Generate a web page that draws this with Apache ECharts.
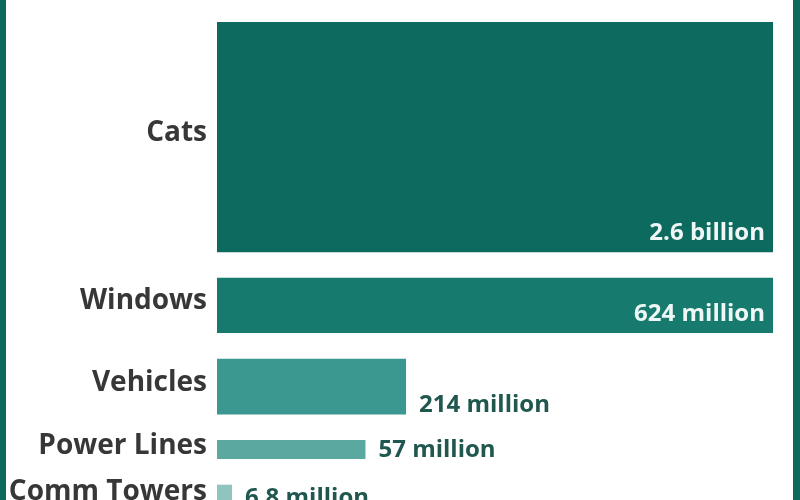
<!DOCTYPE html>
<html>
<head>
<meta charset="utf-8">
<script src="https://cdn.jsdelivr.net/npm/echarts@6/dist/echarts.min.js"></script>
<style>
  html, body { margin: 0; padding: 0; background: #fff; }
  #chart { width: 800px; height: 500px; }
</style>
</head>
<body>
<div id="chart"></div>
<script>
// causes of bird deaths (millions per year)
var categories = ['Cats', 'Windows', 'Vehicles', 'Power Lines', 'Comm Towers'];
var deaths = [2600, 624, 214, 57, 6.8];
var valueLabels = ['2.6 billion', '624 million', '214 million', '57 million', '6.8 million'];
// bar length as share of the full width
var barShare = [1, 1, 0.34, 0.267, 0.027];
var barColors = ['#0d6a5e', '#177a6e', '#3a9890', '#5ba8a0', '#90c5bf'];

// bar area ~ deaths, so thickness = deaths / length; stack down with a gap
var GAP = 290;
var rows = [];
var pos = 0;
for (var i = 0; i < categories.length; i++) {
	var thick = deaths[i] / barShare[i];
	rows.push([pos, pos + thick, barShare[i], i]);
	pos += thick + GAP;
}

function renderBar(params, api) {
	var idx = api.value(3);
	var p0 = api.coord([0, api.value(0)]);
	var p1 = api.coord([api.value(2), api.value(1)]);
	var inside = api.value(2) >= 1;
	var cy = (p0[1] + p1[1]) / 2;
	return {
		type: 'group',
		children: [{
			type: 'rect',
			shape: { x: p0[0], y: p0[1], width: p1[0] - p0[0], height: p1[1] - p0[1] },
			style: { fill: barColors[idx] }
		}, {
			type: 'text',
			style: {
				x: p0[0] - 10, y: cy - 4,
				text: categories[idx],
				align: 'right', verticalAlign: 'middle',
				fill: '#373737',
				font: 'bold 28px "Open Sans"'
			}
		}, {
			type: 'text',
			style: {
				x: inside ? p1[0] - 8 : p1[0] + 13,
				y: inside ? p1[1] - 19 : p1[1] - 9,
				text: valueLabels[idx],
				align: inside ? 'right' : 'left', verticalAlign: 'middle',
				fill: inside ? '#eef7f5' : '#20574f',
				font: 'bold 24px "Open Sans"'
			}
		}]
	};
}

var myChart = echarts.init(document.getElementById('chart'));
var option = {
	backgroundColor: '#fff',
	animation: false,
	grid: { left: 217, right: 27, top: 22, bottom: 0 },
	xAxis: { type: 'value', min: 0, max: 1, show: false },
	yAxis: { type: 'value', min: 0, max: 5400, inverse: true, show: false },
	graphic: [
		{ type: 'rect', left: 0, top: 0, shape: { width: 6, height: 500 }, style: { fill: '#0f6a5e' } },
		{ type: 'rect', right: 0, top: 0, shape: { width: 7, height: 500 }, style: { fill: '#0f6a5e' } }
	],
	series: [{
		type: 'custom',
		renderItem: renderBar,
		clip: false,
		data: rows
	}]
};
myChart.setOption(option);
</script>
</body>
</html>
